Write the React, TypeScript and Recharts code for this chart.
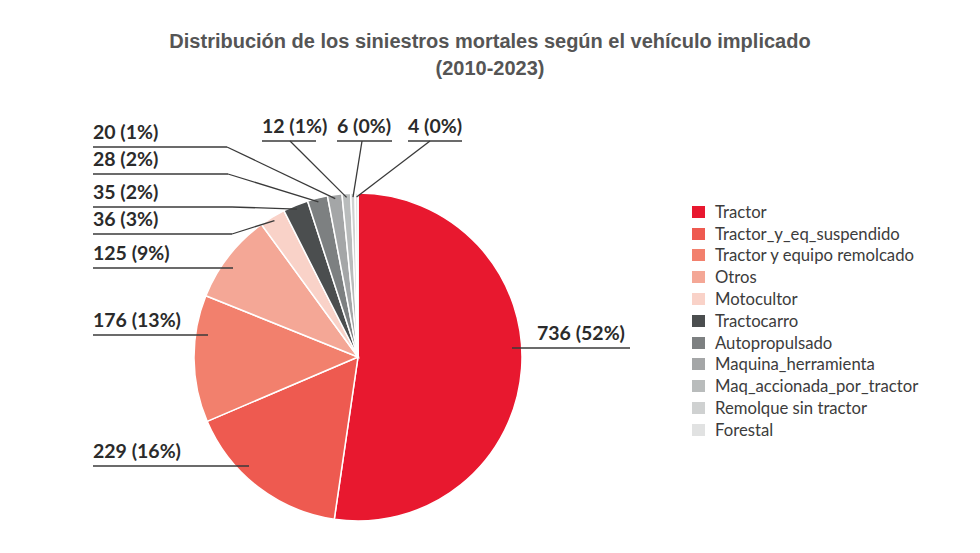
import React from 'react';
import { PieChart, Pie, Cell, Legend } from 'recharts';

const categories = [
  'Tractor',
  'Tractor_y_eq_suspendido',
  'Tractor y equipo remolcado',
  'Otros',
  'Motocultor',
  'Tractocarro',
  'Autopropulsado',
  'Maquina_herramienta',
  'Maq_accionada_por_tractor',
  'Remolque sin tractor',
  'Forestal',
];

const deaths = [736, 229, 176, 125, 36, 35, 28, 20, 12, 6, 4];

const colors = [
  '#e8182f',
  '#ee5a50',
  '#f2806d',
  '#f4a796',
  '#f9d2c8',
  '#4b4e4f',
  '#7d8081',
  '#a4a6a7',
  '#b9bcbc',
  '#cfd1d1',
  '#e1e2e2',
];

const total = deaths.reduce((a, b) => a + b, 0);
const data = categories.map((name, i) => ({ name, value: deaths[i] }));

// label placement: text start, underline extent, underline y, where the pointer leaves the underline
type LabelSpot = { tx: number; x1: number; x2: number; y: number; px?: number };
const labelSpots: LabelSpot[] = [
  { tx: 537, x1: 512, x2: 630, y: 348 },
  { tx: 93, x1: 93, x2: 249, y: 466 },
  { tx: 93, x1: 93, x2: 208, y: 335 },
  { tx: 93, x1: 93, x2: 233, y: 268 },
  { tx: 93, x1: 93, x2: 232, y: 234, px: 232 },
  { tx: 93, x1: 93, x2: 232, y: 207, px: 232 },
  { tx: 93, x1: 93, x2: 228, y: 174, px: 228 },
  { tx: 93, x1: 93, x2: 227, y: 147, px: 227 },
  { tx: 262, x1: 262, x2: 316, y: 141, px: 290 },
  { tx: 337, x1: 337, x2: 392, y: 141, px: 362 },
  { tx: 408, x1: 408, x2: 462, y: 141, px: 430 },
];

const RAD = Math.PI / 180;

const renderLabel = (props: any) => {
  const { cx, cy, midAngle, outerRadius, index, value } = props;
  const spot = labelSpots[index];
  const pct = Math.round((value / total) * 100);
  let pointer = null;
  if (spot.px !== undefined) {
    const r = outerRadius - 4;
    const ex = Number(cx) + Math.cos(-midAngle * RAD) * r;
    const ey = Number(cy) + Math.sin(-midAngle * RAD) * r;
    pointer = (
      <line x1={spot.px} y1={spot.y} x2={ex} y2={ey} stroke="#3a3a3a" strokeWidth={1.3} />
    );
  }
  return (
    <g key={`lbl-${index}`}>
      <line x1={spot.x1} y1={spot.y} x2={spot.x2} y2={spot.y} stroke="#3a3a3a" strokeWidth={1.5} />
      {pointer}
      <text
        x={spot.tx}
        y={spot.y - 8}
        fill="#2b2b2b"
        fontSize={19.5}
        fontWeight={700}
        fontFamily="Lato, 'Open Sans', sans-serif"
      >
        {`${value} (${pct}%)`}
      </text>
    </g>
  );
};

const renderLegend = () => (
  <div style={{ fontFamily: 'Lato, sans-serif', fontSize: 16.7, color: '#3c3c3c' }}>
    {categories.map((name, i) => (
      <div key={name} style={{ display: 'flex', alignItems: 'center', height: 21.8 }}>
        <span
          style={{
            display: 'inline-block',
            width: 13,
            height: 12,
            background: colors[i],
            marginRight: 10,
          }}
        />
        <span>{name}</span>
      </div>
    ))}
  </div>
);

export default function App() {
  return (
    <div style={{ position: 'absolute', left: 0, top: 0, width: 980, height: 553, background: '#fff' }}>
      <div
        style={{
          position: 'absolute',
          left: 0,
          top: 28,
          width: 980,
          textAlign: 'center',
          fontFamily: "'Liberation Sans', Arial, sans-serif",
          fontWeight: 700,
          fontSize: 20,
          lineHeight: '27px',
          color: '#555',
        }}
      >
        <div>Distribución de los siniestros mortales según el vehículo implicado</div>
        <div>(2010-2023)</div>
      </div>
      <PieChart
        width={980}
        height={553}
        margin={{ top: 0, right: 0, bottom: 0, left: 0 }}
        style={{ position: 'absolute', left: 0, top: 0 }}
      >
        <Pie
          data={data}
          dataKey="value"
          nameKey="name"
          cx={358}
          cy={357}
          outerRadius={164}
          startAngle={90}
          endAngle={-270}
          stroke="#fff"
          strokeWidth={1.5}
          label={renderLabel}
          labelLine={false}
          isAnimationActive={false}
        >
          {data.map((d, i) => (
            <Cell key={d.name} fill={colors[i]} />
          ))}
        </Pie>
        <Legend
          layout="vertical"
          align="right"
          verticalAlign="top"
          content={renderLegend}
          wrapperStyle={{ left: 692, top: 201, width: 260 }}
        />
      </PieChart>
    </div>
  );
}
